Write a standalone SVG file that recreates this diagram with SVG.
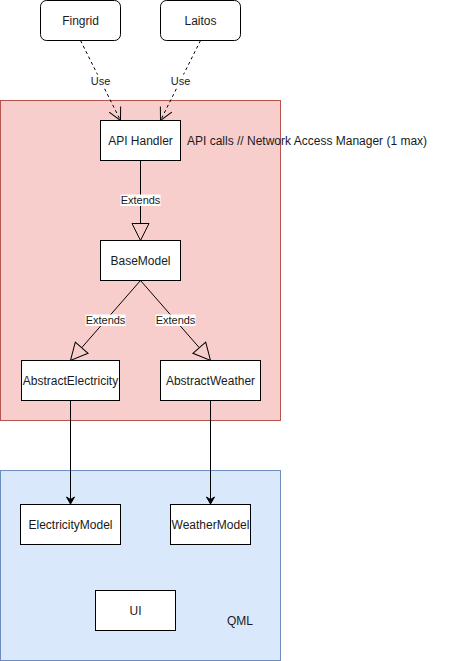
<svg xmlns="http://www.w3.org/2000/svg" width="471" height="661" viewBox="0 0 471 661">
<style>
text{font-family:"Liberation Sans",Arial,sans-serif;font-size:12px;fill:#1a1a1a}
.node{fill:#ffffff;stroke:#000000;stroke-width:1}
.lbl{font-size:11px;text-anchor:middle}
.lblbg{fill:#ffffff}
.c{text-anchor:middle}
.edge{fill:none;stroke:#000000;stroke-width:1}
.dash{stroke-dasharray:3 3}
</style>
<defs>
<marker id="open" markerUnits="userSpaceOnUse" markerWidth="30" markerHeight="30" refX="0" refY="0" viewBox="-15 -15 30 30" orient="auto" overflow="visible">
<path d="M-12.5,-6.4 L0,0 L-12.5,6.4" fill="none" stroke="#000" stroke-width="1"/>
</marker>
<marker id="tri" markerUnits="userSpaceOnUse" markerWidth="40" markerHeight="40" refX="0" refY="0" viewBox="-20 -20 40 40" orient="auto" overflow="visible">
<path d="M0,-8.5 L17,0 L0,8.5 Z" fill="#f8cecc" stroke="#000" stroke-width="1"/>
</marker>
<marker id="block" markerUnits="userSpaceOnUse" markerWidth="20" markerHeight="20" refX="0" refY="0" viewBox="-10 -10 20 20" orient="auto" overflow="visible">
<path d="M4.5,0 L-2.5,-4 L0,0 L-2.5,4 Z" fill="#000" stroke="#000" stroke-width="1"/>
</marker>
</defs>

<g id="container-api">
<rect x="0.5" y="100.5" width="280" height="320" fill="#f8cecc" stroke="#b85450"/>
</g>
<g id="container-qml">
<rect x="0.5" y="470.5" width="280" height="190" fill="#dae8fc" stroke="#6c8ebf"/>
<text x="240" y="625" class="c">QML</text>
</g>

<g id="connectors">
<path class="edge dash" d="M80.5,40.5 L120.5,120.5" marker-end="url(#open)"/>
<path class="edge dash" d="M200.5,40.5 L160.5,120.5" marker-end="url(#open)"/>
<path class="edge" d="M140.5,160.5 L140.5,223.5" marker-end="url(#tri)"/>
<path class="edge" d="M140.5,280.5 L81.7,347.7" marker-end="url(#tri)"/>
<path class="edge" d="M140.5,280.5 L199.3,347.7" marker-end="url(#tri)"/>
<path class="edge" d="M70.5,400.5 L70.5,499.5" marker-end="url(#block)"/>
<path class="edge" d="M210.5,400.5 L210.5,499.5" marker-end="url(#block)"/>
<rect class="lblbg" x="90.5" y="74.5" width="20" height="12"/>
<text class="lbl" x="100.5" y="84.5">Use</text>
<rect class="lblbg" x="170.5" y="74.5" width="20" height="12"/>
<text class="lbl" x="180.5" y="84.5">Use</text>
<rect class="lblbg" x="120.5" y="194.5" width="40" height="11.5"/>
<text class="lbl" x="140.5" y="204">Extends</text>
<rect class="lblbg" x="85.5" y="314.5" width="40" height="11.5"/>
<text class="lbl" x="105.5" y="324">Extends</text>
<rect class="lblbg" x="155.5" y="314.5" width="40" height="11.5"/>
<text class="lbl" x="175.5" y="324">Extends</text>
</g>

<g id="fingrid">
<rect class="node" x="40.5" y="0.5" width="80" height="40" rx="6" ry="6"/>
<text class="c" x="80.5" y="24.5">Fingrid</text>
</g>
<g id="laitos">
<rect class="node" x="160.5" y="0.5" width="80" height="40" rx="6" ry="6"/>
<text class="c" x="200.5" y="24.5">Laitos</text>
</g>
<g id="api-handler">
<rect class="node" x="100.5" y="120.5" width="80" height="40"/>
<text class="c" x="140.5" y="144.5">API Handler</text>
</g>
<g id="api-note">
<text x="187" y="144.5">API calls // Network Access Manager (1 max)</text>
</g>
<g id="basemodel">
<rect class="node" x="100.5" y="240.5" width="80" height="40"/>
<text class="c" x="140.5" y="264.5">BaseModel</text>
</g>
<g id="abstract-electricity">
<rect class="node" x="21.5" y="360.5" width="98" height="40"/>
<text class="c" x="70.5" y="384.5">AbstractElectricity</text>
</g>
<g id="abstract-weather">
<rect class="node" x="160.5" y="360.5" width="100" height="40"/>
<text class="c" x="210.5" y="384.5">AbstractWeather</text>
</g>
<g id="electricity-model">
<rect class="node" x="20.5" y="504.5" width="100" height="40"/>
<text class="c" x="70.5" y="528.5">ElectricityModel</text>
</g>
<g id="weather-model">
<rect class="node" x="170.5" y="504.5" width="80" height="40"/>
<text class="c" x="210.5" y="528.5">WeatherModel</text>
</g>
<g id="ui">
<rect class="node" x="95.5" y="590.5" width="80" height="40"/>
<text class="c" x="135.5" y="614.5">UI</text>
</g>
</svg>
